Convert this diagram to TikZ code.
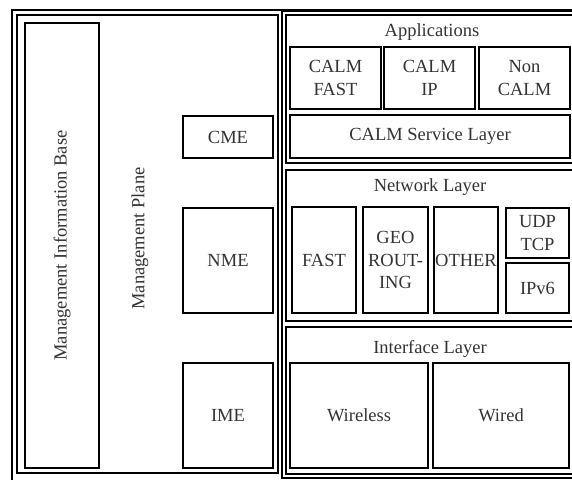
\documentclass[tikz,border=0pt]{standalone}
\usepackage{fontspec}
\setmainfont{Liberation Serif}
\begin{document}
\begin{tikzpicture}[x=1pt,y=-1pt,line width=1.6pt,
  txt/.style={inner sep=0pt,align=center,text=black!80,font=\fontsize{18.5}{22.5}\selectfont},
  box/.style={txt,draw=black,line width=1.6pt}]
\useasboundingbox (0,0) rectangle (572,479);
\clip (0,0) rectangle (572,479);
% frames
\draw[line width=2pt] (12,10) rectangle (640,520);
\draw (17,15) rectangle (278,473);
\draw (282,11) rectangle (640,478);
\draw (286,15) rectangle (640,163);
\draw (286,170) rectangle (640,321);
\draw (286,327) rectangle (640,474);
% management plane
\node[box,minimum width=74pt,minimum height=445pt] (mib) at (62,245.5) {\rotatebox{90}{Management Information Base}};
\node[txt] (mp) at (140,238.5) {\rotatebox{90}{Management Plane}};
\node[box,minimum width=90pt,minimum height=42pt] (cme) at (228,137) {CME};
\node[box,minimum width=90pt,minimum height=105pt] (nme) at (228,260.5) {NME};
\node[box,minimum width=90pt,minimum height=105pt] (ime) at (228,415.5) {IME};
% applications
\node[txt] (apps) at (432,32) {Applications};
\node[box,minimum width=91pt,minimum height=62pt] (cfast) at (335.5,78) {CALM\\FAST};
\node[box,minimum width=91pt,minimum height=62pt] (cip) at (429.5,78) {CALM\\IP};
\node[box,minimum width=91pt,minimum height=62pt] (ncalm) at (524.5,78) {Non\\CALM};
\node[box,minimum width=280pt,minimum height=43pt] (csl) at (430,136.5) {CALM Service Layer};
% network layer
\node[txt] (net) at (430,187) {Network Layer};
\node[box,minimum width=64pt,minimum height=106pt] (fast) at (324,260) {FAST};
\node[box,minimum width=65pt,minimum height=106pt] (geo) at (395.5,260) {GEO\\ROUT-\\ING};
\node[box,minimum width=64pt,minimum height=106pt] (other) at (466,260) {OTHER};
\node[box,minimum width=63pt,minimum height=50pt] (udp) at (537.5,233) {UDP\\TCP};
\node[box,minimum width=63pt,minimum height=50pt] (ipv6) at (537.5,288) {IPv6};
% interface layer
\node[txt] (ifl) at (430,349) {Interface Layer};
\node[box,minimum width=138pt,minimum height=105pt] (wl) at (359,415.5) {Wireless};
\node[box,minimum width=136pt,minimum height=105pt] (wd) at (501,415.5) {Wired};
\end{tikzpicture}
\end{document}
